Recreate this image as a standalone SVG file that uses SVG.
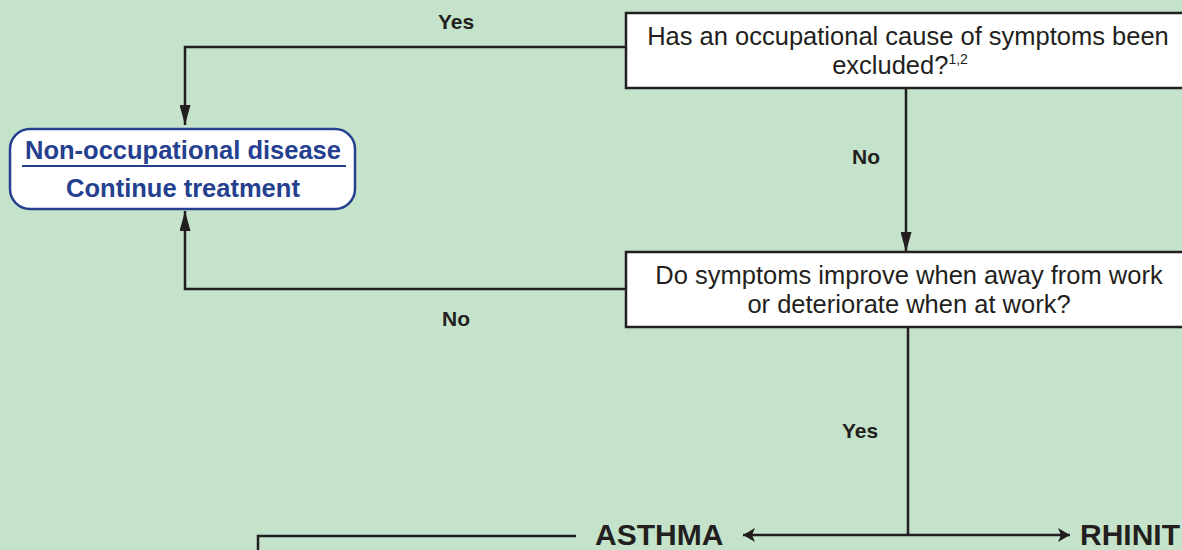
<svg xmlns="http://www.w3.org/2000/svg" width="1182" height="550" viewBox="0 0 1182 550">
<style>
.q{fill:#fff;stroke:#231f20;stroke-width:2.5}
.qt{font-family:"Liberation Sans",Arial,sans-serif;font-size:25.5px;fill:#231f20;text-anchor:middle}
.lbl{font-family:"Liberation Sans",Arial,sans-serif;font-size:21px;font-weight:bold;fill:#231f20;text-anchor:middle}
.big{font-family:"Liberation Sans",Arial,sans-serif;font-size:30px;font-weight:bold;fill:#231f20}
.ln{fill:none;stroke:#231f20;stroke-width:2.5}
.bt{font-family:"Liberation Sans",Arial,sans-serif;font-size:25.5px;font-weight:bold;fill:#25408f;text-anchor:middle}
</style>
<defs>
<marker id="ah" viewBox="0 0 20 11" refX="20" refY="5.5" markerWidth="20" markerHeight="11" markerUnits="userSpaceOnUse" orient="auto">
<path d="M0,0 L20,5.5 L0,11 Z" fill="#231f20"/>
</marker>
<marker id="ahs" viewBox="0 0 12 14" refX="12" refY="7" markerWidth="12" markerHeight="14" markerUnits="userSpaceOnUse" orient="auto">
<path d="M0,0 L12,7 L0,14 L3,7 Z" fill="#231f20"/>
</marker>
</defs>
<rect width="1182" height="550" fill="#c5e3ca"/>
<g id="connectors">
<path class="ln" d="M626,47 H185 V125" marker-end="url(#ah)"/>
<path class="ln" d="M906,88 V252" marker-end="url(#ah)"/>
<path class="ln" d="M626,289 H185 V211" marker-end="url(#ah)"/>
<path class="ln" d="M908,327 V535"/>
<path class="ln" d="M908,535 H743" marker-end="url(#ahs)"/>
<path class="ln" d="M908,535 H1070" marker-end="url(#ahs)"/>
<path class="ln" d="M576,536 H258 V552"/>
<text class="lbl" x="456" y="29">Yes</text>
<text class="lbl" x="866" y="164">No</text>
<text class="lbl" x="456" y="326">No</text>
<text class="lbl" x="860" y="438">Yes</text>
</g>
<g id="q1">
<rect class="q" x="626" y="13" width="580" height="75"/>
<text class="qt" x="908" y="45">Has an occupational cause of symptoms been</text>
<text class="qt" x="900" y="74">excluded?<tspan font-size="14" dy="-10">1,2</tspan></text>
</g>
<g id="q2">
<rect class="q" x="626" y="252" width="580" height="75"/>
<text class="qt" x="909" y="284">Do symptoms improve when away from work</text>
<text class="qt" x="909" y="313">or deteriorate when at work?</text>
</g>
<g id="nonocc">
<rect x="10" y="129" width="345" height="80" rx="20" fill="#fff" stroke="#25408f" stroke-width="2.5"/>
<text class="bt" x="183" y="159">Non-occupational disease</text>
<line x1="22" y1="166" x2="346" y2="166" stroke="#25408f" stroke-width="2"/>
<text class="bt" x="183" y="197">Continue treatment</text>
</g>
<g id="asthma">
<text class="big" x="595" y="545">ASTHMA</text>
</g>
<g id="rhinit">
<text class="big" x="1080" y="545">RHINIT</text>
</g>
</svg>
